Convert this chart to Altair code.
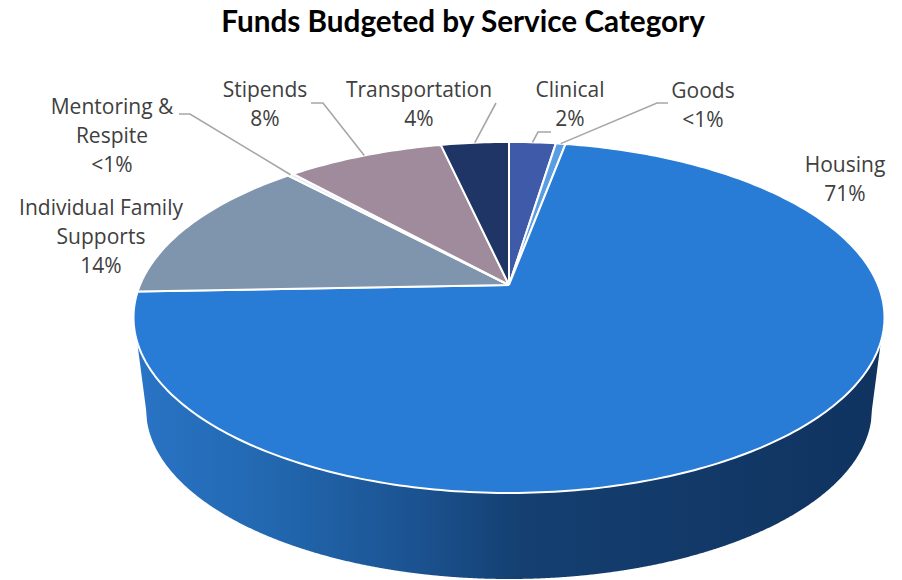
import math
import altair as alt
import pandas as pd

# ---- values
CATEGORIES = ["Clinical", "Goods", "Housing", "Individual Family Supports",
              "Mentoring & Respite", "Stipends", "Transportation"]
SHARES = [2.4, 0.5, 71.5, 13.7, 0.3, 8.1, 3.5]
LABELS = ["Clinical\n2%", "Goods\n<1%", "Housing\n71%",
          "Individual Family\nSupports\n14%", "Mentoring &\nRespite\n<1%",
          "Stipends\n8%", "Transportation\n4%"]
COLORS = ["#3f5aa8", "#5b9de2", "#287cd6", "#7f94ad", "#e9eef4", "#a08b9d", "#1f3566"]

# ---- layout (pixel frame of the picture)
W, H, PAD_TOP = 886, 514, 50
CX, CY = 509, 285          # where the slices meet
K, A, C = 369, 169.5, 0.185  # perspective of the pie top
LABEL_POS = {"Clinical": (570, 91), "Goods": (703, 92), "Housing": (845, 166),
             "Individual Family Supports": (101, 209), "Mentoring & Respite": (112, 108),
             "Stipends": (265, 91), "Transportation": (419, 91)}
LEADER_START = {"Clinical": [(551, 132), (538, 132)], "Goods": [(668, 103), (657, 103)],
                "Mentoring & Respite": [(179, 114), (190, 114)],
                "Stipends": [(311, 103), (323, 103)], "Transportation": [(496, 103)]}


def project(share):
    t = 2 * math.pi * share / 100
    u, v = math.sin(t), math.cos(t)
    d = 1 + C * v
    return CX + K * u / d, CY - A * v / d


rows, labels, leaders = [], [], []
start = 0.0
for name, share, text in zip(CATEGORIES, SHARES, LABELS):
    pts = [(CX, CY)]
    n = max(2, int(share * 4))
    pts += [project(start + share * i / n) for i in range(n + 1)] + [(CX, CY)]
    for i, (x, y) in enumerate(pts):
        rows.append(dict(name=name, x=x, y=y, o=i))
    lx, ly = LABEL_POS[name]
    labels.append(dict(name=name, x=lx, y=ly, text=text))
    if name in LEADER_START:
        line = LEADER_START[name] + [project(start + share / 2)]
        for i, (x, y) in enumerate(line):
            leaders.append(dict(name=name, x=x, y=y, o=i))
    start += share

# side wall of the pie: top rim to lower rim
EX, EY, RX, RY = 509, 317.5, 375, 175.5     # top ellipse
BX, BY, BRX, BRY = 509, 409, 363, 170       # lower ellipse
wall = []
for i in range(0, 751):
    x = 134 + i
    top = EY + RY * math.sqrt(max(0, 1 - ((x - EX) / RX) ** 2))
    if x < BX - BRX:
        bot = 318 + (x - 134) / (BX - BRX - 134) * (BY - 318)
    elif x > BX + BRX:
        bot = 318 + (884 - x) / (884 - BX - BRX) * (BY - 318)
    else:
        bot = BY + BRY * math.sqrt(max(0, 1 - ((x - BX) / BRX) ** 2))
    wall.append(dict(x=x, top=top, bot=bot))

xs = alt.Scale(domain=[8, 8 + W], nice=False, zero=False)
ys = alt.Scale(domain=[8 + PAD_TOP + H, 8 + PAD_TOP], nice=False, zero=False)
X = alt.X("x:Q", scale=xs, axis=None)
Y = alt.Y("y:Q", scale=ys, axis=None)

side = alt.Chart(pd.DataFrame(wall)).mark_area(
    clip=False,
    line=False,
    color=alt.Gradient(
        gradient="linear", x1=0, x2=1, y1=0, y2=0,
        stops=[alt.GradientStop(offset=0, color="#2a74c6"),
               alt.GradientStop(offset=0.18, color="#2268b0"),
               alt.GradientStop(offset=0.38, color="#1b5290"),
               alt.GradientStop(offset=0.52, color="#143f70"),
               alt.GradientStop(offset=1, color="#103360")],
    ),
).encode(x=X, y=alt.Y("top:Q", scale=ys, axis=None), y2="bot:Q")

top = alt.Chart(pd.DataFrame(rows)).mark_line(
    filled=True, stroke="white", strokeWidth=2, strokeJoin="round"
).encode(
    x=X, y=Y, order="o:Q",
    fill=alt.Fill("name:N", scale=alt.Scale(domain=CATEGORIES, range=COLORS), legend=None),
    detail="name:N",
)

lead = alt.Chart(pd.DataFrame(leaders)).mark_line(color="#a6a6a6", strokeWidth=1.6).encode(
    x=X, y=Y, order="o:Q", detail="name:N"
)

text = alt.Chart(pd.DataFrame(labels)).mark_text(
    font="Open Sans", fontSize=21, color="#404040", align="center",
    baseline="middle", lineBreak="\n", lineHeight=29,
).encode(x=X, y=Y, text="text:N")

chart = (side + top + lead + text).properties(
    width=W, height=H,
    padding={"left": 0, "right": 0, "top": PAD_TOP, "bottom": 8},
    autosize=alt.AutoSizeParams(type="none"),
    title=alt.TitleParams("Funds Budgeted by Service Category", font="Lato", fontSize=29.7,
                          fontWeight="bold", color="#000000", anchor="middle",
                          dx=12, offset=19),
).configure_view(stroke=None)

chart.save("out.html", embed_options={"renderer": "svg", "actions": False})
